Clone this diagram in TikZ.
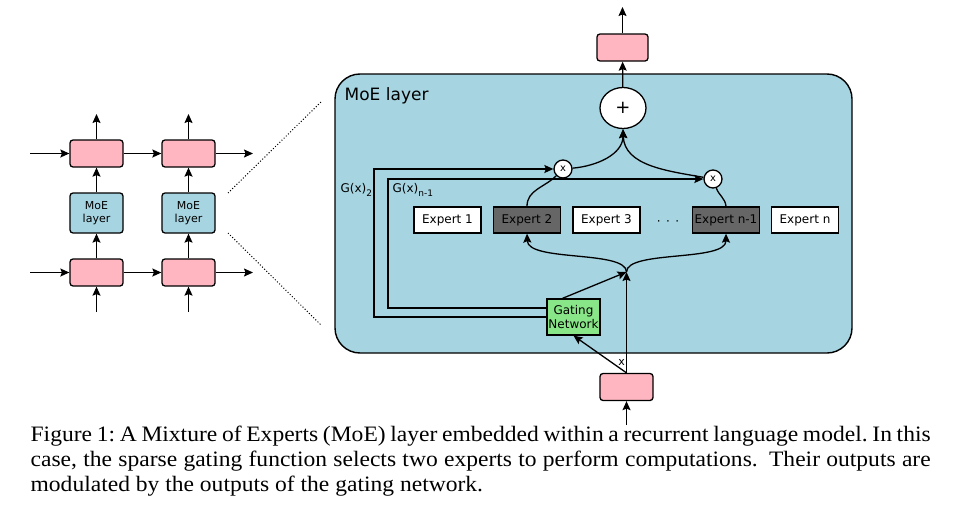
\documentclass[tikz,border=0pt]{standalone}
\usepackage{fontspec}
\setmainfont{Liberation Serif}[FakeStretch=1.07]
\newfontfamily\djv{DejaVu Sans}
\usetikzlibrary{arrows.meta,calc,shapes.geometric}
\definecolor{cPink}{RGB}{255,182,193}
\definecolor{cBlue}{RGB}{166,212,225}
\definecolor{cDark}{RGB}{102,102,102}
\definecolor{cGreen}{RGB}{136,230,136}
\begin{document}
\begin{tikzpicture}[x=1pt,y=-1pt,line width=1.3pt,
  arr/.style={-{Stealth[length=9pt,width=8pt,inset=1.5pt]}},
  pbox/.style={draw,fill=cPink,rounded corners=3pt,minimum width=53pt,minimum height=27pt,inner sep=0pt},
  mbox/.style={draw,fill=cBlue,rounded corners=3pt,minimum width=53pt,minimum height=40pt,inner sep=0pt,align=center,font=\djv\fontsize{11}{13}\selectfont},
  expbox/.style={draw,fill=white,minimum width=67pt,minimum height=26pt,inner sep=0pt,font=\djv\fontsize{12}{14}\selectfont},
  expdark/.style={expbox,fill=cDark},
  mult/.style={draw,fill=white,circle,minimum size=18pt,inner sep=0pt,font=\djv\fontsize{10}{10}\selectfont},
  lbl/.style={font=\djv\fontsize{12}{14}\selectfont,inner sep=0pt},
  dotln/.style={line width=1pt,dash pattern=on 1pt off 2pt}]
\useasboundingbox (0,0) rectangle (953,506);
% ---------- left: recurrent model ----------
\node[pbox] (p1) at (96.5,153.5) {};
\node[pbox] (p2) at (188.5,153.5) {};
\node[mbox] (m1) at (96.5,213) {MoE\\layer};
\node[mbox] (m2) at (188.5,213) {MoE\\layer};
\node[pbox] (q1) at (96.5,272.5) {};
\node[pbox] (q2) at (188.5,272.5) {};
\coordinate (lin1) at (30,153.5);
\coordinate (lout1) at (253,153.5);
\coordinate (lin2) at (30,272.5);
\coordinate (lout2) at (253,272.5);
\coordinate (up1) at (96.5,114);
\coordinate (up2) at (188.5,114);
\coordinate (dn1) at (96.5,312);
\coordinate (dn2) at (188.5,312);
\draw[arr] (lin1) -- (p1);
\draw[arr] (p1) -- (p2);
\draw[arr] (p2) -- (lout1);
\draw[arr] (lin2) -- (q1);
\draw[arr] (q1) -- (q2);
\draw[arr] (q2) -- (lout2);
\draw[arr] (p1) -- (up1);
\draw[arr] (p2) -- (up2);
\draw[arr] (m1) -- (p1);
\draw[arr] (m2) -- (p2);
\draw[arr] (q1) -- (m1);
\draw[arr] (q2) -- (m2);
\draw[arr] (dn1) -- (q1);
\draw[arr] (dn2) -- (q2);
% dotted zoom lines
\coordinate (z1) at (228,193);
\coordinate (z2) at (321,102);
\coordinate (z3) at (228,233);
\coordinate (z4) at (321,325);
\draw[dotln] (z1) -- (z2);
\draw[dotln] (z3) -- (z4);
% ---------- MoE layer ----------
\node[draw,fill=cBlue,rounded corners=25pt,minimum width=517pt,minimum height=279pt,inner sep=0pt,line width=1.4pt] (moe) at (593.5,213.5) {};
\node[anchor=west,inner sep=0pt,font=\djv\fontsize{17}{20}\selectfont] (moelbl) at (344,96) {MoE layer};
\node[draw,fill=white,ellipse,minimum width=46pt,minimum height=41pt,inner sep=0pt,font=\djv\fontsize{18}{20}\selectfont] (plus) at (623,108) {+};
\node[pbox,minimum width=51pt] (out) at (622.5,47.5) {};
\coordinate (outtop) at (622.5,7);
\draw[arr] (plus) -- (out);
\draw[arr] (out) -- (outtop);
\node[expbox] (e1) at (447.5,220) {Expert 1};
\node[expdark] (e2) at (527,220) {Expert 2};
\node[expbox] (e3) at (606.5,220) {Expert 3};
\node[expdark] (en1) at (726,220) {Expert n-1};
\node[expbox] (en) at (805,220) {Expert n};
\node[lbl] (dots) at (668,223) {·\hspace{5.5pt}·\hspace{5.5pt}·};
\node[mult] (c1) at (563,169) {x};
\node[mult] (c2) at (713,179) {x};
\node[draw,fill=cGreen,minimum width=53pt,minimum height=36pt,inner sep=0pt,align=center,font=\djv\fontsize{12}{13.5}\selectfont] (gate) at (573.5,317) {Gating\\Network};
\node[pbox] (inp) at (626.5,387) {};
\coordinate (indn) at (626.5,425);
\coordinate (junc) at (626.5,272);
\draw[arr] (indn) -- (inp);
\draw[arr] (inp.north) -- (junc);
\draw[arr] (inp.north) -- (gate.south);
\node[lbl,font=\djv\fontsize{11}{12}\selectfont] (xlbl) at (621.5,362) {x};
\draw[arr] ([xshift=-11pt]gate.north) -- (junc);
\draw[arr] (junc) .. controls (626.5,250) and (528,262) .. (e2.south);
\draw[arr] (junc) .. controls (626.5,250) and (726,262) .. (en1.south);
\draw (e2.north) to[out=90,in=225] (c1);
\draw (en1.north) to[out=95,in=-70] (c2);
\draw[arr] (c1) to[out=5,in=-90] (plus.south);
\draw[arr] (c2) to[out=170,in=-88] (plus.south);
\draw[arr] (gate.west) -- (374,317) |- (c1);
\draw[arr] ([yshift=9pt]gate.west) -- (388,308) |- (c2);
\node[lbl,anchor=west] (g2) at (340,190) {G(x)\raisebox{-3.5pt}{\fontsize{9}{9}\selectfont 2}};
\node[lbl,anchor=west] (gn) at (392,190) {G(x)\raisebox{-3.5pt}{\fontsize{9}{9}\selectfont n-1}};
% ---------- caption ----------
\node[anchor=base west,text width=900pt,align=justify,inner sep=0pt,font=\fontsize{22}{25}\selectfont\frenchspacing] (cap) at (30,441)
 {Figure 1: A Mixture of Experts (MoE) layer embedded within a recurrent language model. In this\linebreak
  case, the sparse gating function selects two experts to perform computations.\hspace{5pt} Their outputs are\linebreak
  modulated by the outputs of the gating network.};
\end{tikzpicture}
\end{document}
